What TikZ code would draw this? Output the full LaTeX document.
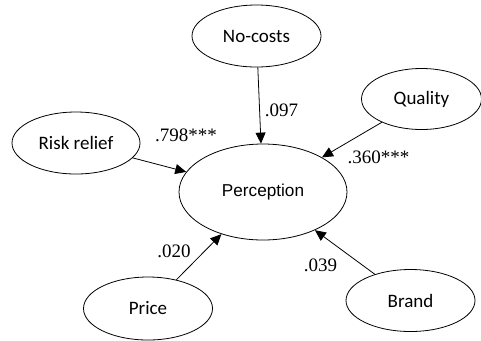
\documentclass[tikz,border=0pt]{standalone}
\usepackage{fontspec}
\setmainfont{Carlito}
\newfontfamily\arialf{Liberation Sans}
\newfontfamily\timesf{Liberation Serif}
\usetikzlibrary{shapes.geometric,arrows.meta}
\tikzset{
  var/.style={draw, ellipse, line width=0.8bp, inner sep=0pt,
    minimum width=129bp, minimum height=62bp,
    font=\fontsize{19bp}{22bp}\selectfont},
  center/.style={var, minimum width=168bp, minimum height=96bp,
    font=\arialf\fontsize{17.2bp}{20bp}\selectfont},
  arr/.style={line width=0.8bp, -{Triangle[length=11bp,width=10bp]}},
  coef/.style={inner sep=0pt, anchor=base, font=\timesf\fontsize{19bp}{22bp}\selectfont}
}
\begin{document}
\begin{tikzpicture}[x=1bp,y=-1bp]
\useasboundingbox (0,0) rectangle (481,340);
\node[center] (perc) at (263,192) {Perception};
\node[var] (nc) at (256.5,36) {No-costs};
\node[var, minimum width=120bp, minimum height=61bp] (qual) at (421.5,99) {Quality};
\node[var, minimum width=128bp] (risk) at (76,143) {Risk relief};
\node[var, minimum height=63bp] (price) at (148,308.5) {Price};
\node[var] (brand) at (410.5,300.5) {Brand};
\draw[arr] (nc) -- (perc);
\draw[arr] (qual) -- (perc);
\draw[arr] (risk) -- (perc);
\draw[arr] (price) -- (perc);
\draw[arr] (brand) -- (perc);
\node[coef] (l1) at (281.5,116.5) {.097};
\node[coef] (l2) at (186,141.5) {.798***};
\node[coef] (l3) at (378.5,163) {.360***};
\node[coef] (l4) at (174,257) {.020};
\node[coef] (l5) at (320.5,271.5) {.039};
\end{tikzpicture}
\end{document}
